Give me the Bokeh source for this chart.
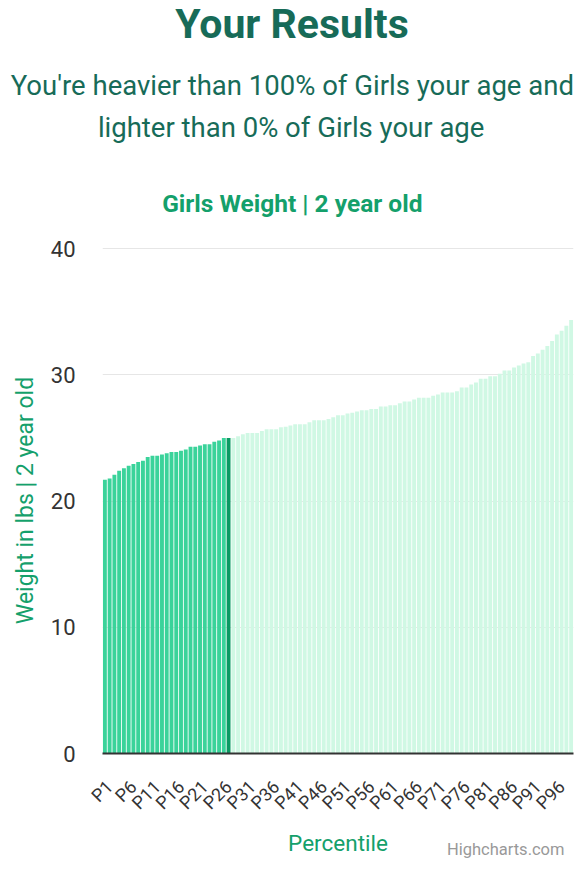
import math
from bokeh.plotting import figure
from bokeh.models import ColumnDataSource, Range1d, FixedTicker, Title
from bokeh.embed import file_html
from bokeh.resources import INLINE

# ---- data ----
percentiles = [f"P{i}" for i in range(1, 100)]
weights = [
    21.7, 21.8, 22.1, 22.4, 22.6, 22.8, 22.95, 23.1, 23.2, 23.5,
    23.6, 23.6, 23.7, 23.8, 23.9, 23.9, 24.0, 24.1, 24.3, 24.3,
    24.4, 24.5, 24.5, 24.7, 24.8, 25.0, 25.0,
    25.0, 25.15, 25.3, 25.4, 25.4, 25.4, 25.55, 25.7, 25.7, 25.7,
    25.85, 25.9, 26.0, 26.1, 26.1, 26.1, 26.25, 26.4, 26.4, 26.4,
    26.5, 26.65, 26.8, 26.8, 26.95,
    27.0, 27.1, 27.2, 27.2, 27.3, 27.3, 27.5, 27.5, 27.6, 27.6,
    27.75, 27.9, 27.9, 28.05, 28.2, 28.2, 28.2, 28.35, 28.45, 28.6,
    28.6, 28.6, 28.7, 29.0, 29.0, 29.25,
    29.4, 29.7, 29.7, 29.9, 29.9, 30.1, 30.35, 30.35, 30.6, 30.75,
    30.9, 31.0, 31.5, 31.7, 32.0, 32.3, 32.7, 33.2, 33.5, 33.9, 34.35,
]
user_percentile = 27
y_ticks = [0, 10, 20, 30, 40]
label_every = 5

title_text = "Your Results"
subtitle_lines = ["You're heavier than 100% of Girls your age and",
                  "lighter than 0% of Girls your age"]
chart_title = "Girls Weight | 2 year old"
y_title = "Weight in lbs | 2 year old"
x_title = "Percentile"
credits = "Highcharts.com"

# ---- colours / fonts ----
C_BELOW = "#3ad39a"
C_USER = "#0b9a63"
C_ABOVE = "#d0f8e4"
C_TITLE = "#176b58"
C_GREEN = "#14a06b"
FONT = "Roboto"

# ---- geometry (canvas px) ----
W, H = 575, 860
FRAME_LEFT = 102
CHART_CENTER = 291

xs = list(range(1, len(weights) + 1))
colors = [C_BELOW if i < user_percentile else (C_USER if i == user_percentile else C_ABOVE) for i in xs]
src = ColumnDataSource(dict(x=xs, top=weights, color=colors, name=percentiles))

p = figure(width=W, height=H, output_backend="svg", toolbar_location=None,
           x_range=Range1d(0.5, len(weights) + 0.5), y_range=Range1d(0, 40.1),
           min_border_left=FRAME_LEFT, min_border_right=2, min_border_top=247, min_border_bottom=107)
p.title.visible = False
p.outline_line_color = None

p.vbar(x="x", top="top", width=0.82, bottom=0, fill_color="color", line_color=None, source=src)

p.xgrid.grid_line_color = None
p.ygrid.grid_line_color = "#e6e6e6"
p.ygrid.grid_line_width = 1
p.yaxis.ticker = FixedTicker(ticks=y_ticks)

p.yaxis.axis_line_color = None
p.yaxis.major_tick_line_color = None
p.yaxis.minor_tick_line_color = None
p.yaxis.major_label_text_font = FONT
p.yaxis.major_label_text_font_size = "22px"
p.yaxis.major_label_text_color = "#333333"
p.yaxis.major_label_standoff = 21
p.yaxis.axis_label = y_title
p.yaxis.axis_label_text_font = FONT
p.yaxis.axis_label_text_font_size = "23px"
p.yaxis.axis_label_text_font_style = "normal"
p.yaxis.axis_label_text_color = C_GREEN
p.yaxis.axis_label_standoff = 9

# x axis: every 5th percentile, label anchor nudged like Highcharts' rotated labels
label_nudge = 1.0
tick_idx = list(range(0, len(percentiles), label_every))
p.xaxis.ticker = FixedTicker(ticks=[xs[i] + label_nudge for i in tick_idx])
p.xaxis.major_label_overrides = {xs[i] + label_nudge: percentiles[i] for i in tick_idx}
p.xaxis.major_label_orientation = math.pi / 4
p.xaxis.axis_line_color = "#333333"
p.xaxis.axis_line_width = 2
p.xaxis.major_tick_line_color = None
p.xaxis.minor_tick_line_color = None
p.xaxis.major_label_text_font = FONT
p.xaxis.major_label_text_font_size = "18px"
p.xaxis.major_label_text_color = "#333333"
p.xaxis.major_label_standoff = 24
p.xaxis.axis_label = x_title
p.xaxis.axis_label_text_font = FONT
p.xaxis.axis_label_text_font_size = "22.5px"
p.xaxis.axis_label_text_font_style = "normal"
p.xaxis.axis_label_text_color = C_GREEN
p.xaxis.axis_label_standoff = 6


def left_offset(em_w, size):
    # centre a left-aligned title on the whole chart (em_w: measured Roboto width per px of font size)
    return CHART_CENTER - em_w * size / 2 - FRAME_LEFT


def add_title(text, size, color, standoff, em_w, bold=False):
    p.add_layout(Title(text=text, text_font=FONT, text_font_size=f"{size}px", text_color=color,
                       text_font_style="bold" if bold else "normal", align="left",
                       offset=left_offset(em_w, size), standoff=standoff), "above")


# stacked from the frame upwards
add_title(chart_title, 24.5, C_GREEN, 58.6, 10.56, bold=True)
add_title(subtitle_lines[1], 27.5, C_TITLE, 26.4, 14.08)
add_title(subtitle_lines[0], 27.5, C_TITLE, -10.8, 20.42)
p.add_layout(Title(text=" ", text_font_size="1px", standoff=31.4), "above")   # vertical gap
add_title(title_text, 41, C_TITLE, -20.9, 5.675, bold=True)

# credits under the x axis, right aligned (pulled up beside the axis title)
p.add_layout(Title(text=credits, text_font=FONT, text_font_size="16.5px", text_color="#999999",
                   text_font_style="normal", align="right", offset=9,
                   vertical_align="top", standoff=-36.4), "below")

open("out.html", "w").write(file_html(p, INLINE))
